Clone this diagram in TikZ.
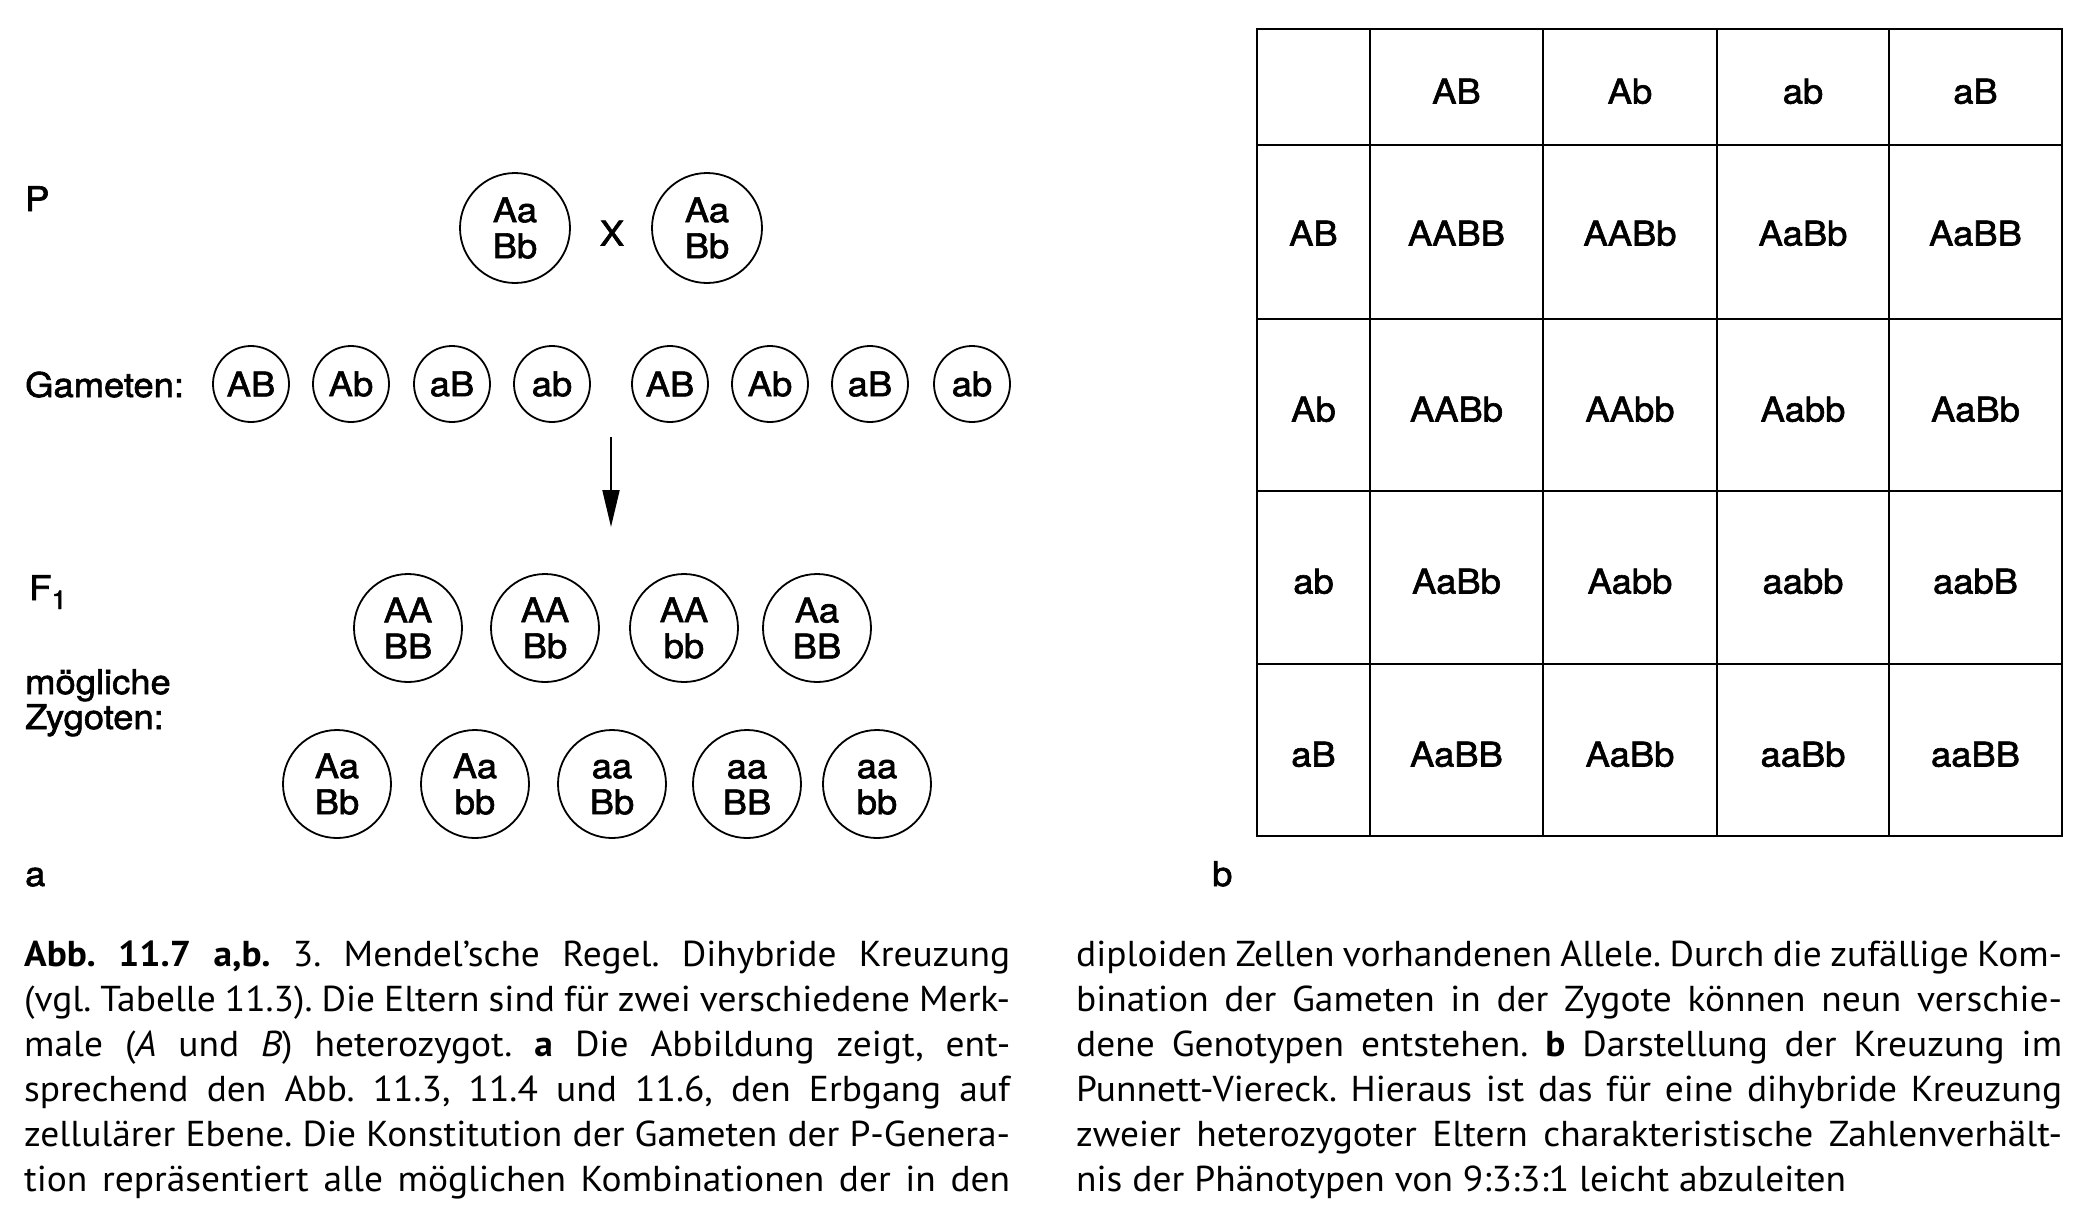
\documentclass[tikz,border=0pt]{standalone}
\usepackage{fontspec}
\setmainfont{TeX Gyre Heros}
\newfontfamily\dfont[FakeStretch=1.07,FakeBold=1.8]{TeX Gyre Heros}
\newfontfamily\capfont[FakeStretch=1.04]{PT Sans}
\usetikzlibrary{arrows.meta}
\frenchspacing
\newcommand{\jline}[1]{\hbox to 986pt{\spaceskip=0.22em plus 1fil minus 0.12em\relax #1}}
\newcommand{\tl}[2]{\vphantom{A}#1\\#2}
\begin{document}
\begin{tikzpicture}[x=1pt,y=-1pt,
  txt/.style={font=\dfont\fontsize{34}{36}\selectfont},
  cellc/.style={txt, circle, draw, line width=1.8pt, inner sep=0pt, align=center},
  parent/.style={cellc, minimum size=110pt},
  gamete/.style={cellc, minimum size=76pt},
  zygote/.style={cellc, minimum size=108pt},
  lbl/.style={txt, anchor=base west, inner sep=0pt},
  gtxt/.style={txt, anchor=center, inner sep=0pt, text height=25pt, text depth=0pt},
  gridline/.style={line width=2pt},
  capline/.style={anchor=base west, inner sep=0pt, font=\capfont\fontsize{36}{45}\selectfont}]
\fill[white] (0,0) rectangle (2090,1219);
\useasboundingbox (0,0) rectangle (2090,1219);

% labels
\node[lbl] (lP) at (25,211) {P};
\node[lbl] (lGam) at (25,397) {Gameten:};
\node[lbl] (lF) at (29,600) {F\raisebox{-9pt}{\fontsize{26}{26}\selectfont 1}};
\node[lbl] (lMoe) at (25,694) {mögliche};
\node[lbl] (lZyg) at (25,729) {Zygoten:};
\node[lbl] (la) at (25,886) {a};
\node[lbl] (lb) at (1212,886) {b};

% parents
\node[parent] (p1) at (515,228) {\tl{Aa}{Bb}};
\node[gtxt] (cross) at (612,233) {X};
\node[parent] (p2) at (707,228) {\tl{Aa}{Bb}};

% gametes
\node[gamete] (g1) at (251,384) {AB};
\node[gamete] (g2) at (351,384) {Ab};
\node[gamete] (g3) at (452,384) {aB};
\node[gamete] (g4) at (552,384) {ab};
\node[gamete] (g5) at (670,384) {AB};
\node[gamete] (g6) at (770,384) {Ab};
\node[gamete] (g7) at (870,384) {aB};
\node[gamete] (g8) at (972,384) {ab};

% arrow
\coordinate (arrS) at (611,437);
\coordinate (arrE) at (611,527);
\draw[line width=2pt, -{Triangle[length=37pt,width=17pt]}] (arrS) -- (arrE);

% zygotes
\node[zygote] (z1) at (408,628) {\tl{AA}{BB}};
\node[zygote] (z2) at (545,628) {\tl{AA}{Bb}};
\node[zygote] (z3) at (684,628) {\tl{AA}{bb}};
\node[zygote] (z4) at (817,628) {\tl{Aa}{BB}};
\node[zygote] (z5) at (337,784) {\tl{Aa}{Bb}};
\node[zygote] (z6) at (475,784) {\tl{Aa}{bb}};
\node[zygote] (z7) at (612,784) {\tl{aa}{Bb}};
\node[zygote] (z8) at (747,784) {\tl{aa}{BB}};
\node[zygote] (z9) at (877,784) {\tl{aa}{bb}};

% Punnett grid
\draw[gridline] (1257,29) rectangle (2062,836);
\foreach \gx in {1370,1543,1717,1889} \draw[gridline] (\gx,29) -- (\gx,836);
\foreach \gy in {145,319,491,664} \draw[gridline] (1257,\gy) -- (2062,\gy);

\node[gtxt] (h1) at (1456.5,91) {AB};
\node[gtxt] (h2) at (1630,91) {Ab};
\node[gtxt] (h3) at (1803,91) {ab};
\node[gtxt] (h4) at (1975.5,91) {aB};

\node[gtxt] (r1) at (1313.5,233) {AB};
\node[gtxt] (r2) at (1313.5,409) {Ab};
\node[gtxt] (r3) at (1313.5,581) {ab};
\node[gtxt] (r4) at (1313.5,754) {aB};

\node[gtxt] (c11) at (1456.5,233) {AABB};
\node[gtxt] (c12) at (1630,233) {AABb};
\node[gtxt] (c13) at (1803,233) {AaBb};
\node[gtxt] (c14) at (1975.5,233) {AaBB};

\node[gtxt] (c21) at (1456.5,409) {AABb};
\node[gtxt] (c22) at (1630,409) {AAbb};
\node[gtxt] (c23) at (1803,409) {Aabb};
\node[gtxt] (c24) at (1975.5,409) {AaBb};

\node[gtxt] (c31) at (1456.5,581) {AaBb};
\node[gtxt] (c32) at (1630,581) {Aabb};
\node[gtxt] (c33) at (1803,581) {aabb};
\node[gtxt] (c34) at (1975.5,581) {aabB};

\node[gtxt] (c41) at (1456.5,754) {AaBB};
\node[gtxt] (c42) at (1630,754) {AaBb};
\node[gtxt] (c43) at (1803,754) {aaBb};
\node[gtxt] (c44) at (1975.5,754) {aaBB};

% caption
\node[capline] (cl1) at (24,966) {\jline{\textbf{Abb.\ 11.7 a,b.} 3. Mendel’sche Regel. Dihybride Kreuzung}};
\node[capline] (cl2) at (24,1011) {\jline{(vgl. Tabelle 11.3). Die Eltern sind für zwei verschiedene Merk-}};
\node[capline] (cl3) at (24,1056) {\jline{male (\textit{A} und \textit{B}) heterozygot. \textbf{a} Die Abbildung zeigt, ent-}};
\node[capline] (cl4) at (24,1101) {\jline{sprechend den Abb. 11.3, 11.4 und 11.6, den Erbgang auf}};
\node[capline] (cl5) at (24,1146) {\jline{zellulärer Ebene. Die Konstitution der Gameten der P-Genera-}};
\node[capline] (cl6) at (24,1191) {\jline{tion repräsentiert alle möglichen Kombinationen der in den}};

\node[capline] (cr1) at (1076,966) {\jline{diploiden Zellen vorhandenen Allele. Durch die zufällige Kom-}};
\node[capline] (cr2) at (1076,1011) {\jline{bination der Gameten in der Zygote können neun verschie-}};
\node[capline] (cr3) at (1076,1056) {\jline{dene Genotypen entstehen. \textbf{b} Darstellung der Kreuzung im}};
\node[capline] (cr4) at (1076,1101) {\jline{Punnett-Viereck. Hieraus ist das für eine dihybride Kreuzung}};
\node[capline] (cr5) at (1076,1146) {\jline{zweier heterozygoter Eltern charakteristische Zahlenverhält-}};
\node[capline] (cr6) at (1076,1191) {nis der Phänotypen von 9:3:3:1 leicht abzuleiten};
\end{tikzpicture}
\end{document}
